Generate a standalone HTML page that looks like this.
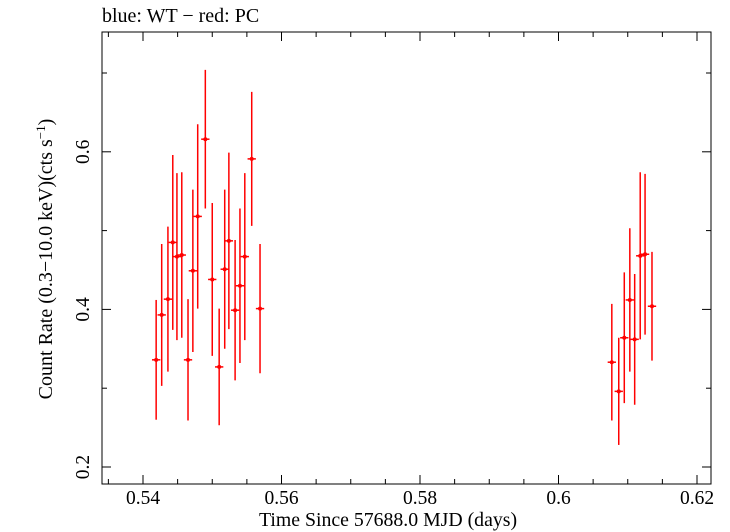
<!DOCTYPE html>
<html><head><meta charset="utf-8"><style>
body{margin:0;background:#fff;}
svg{display:block;font-family:"Liberation Serif",serif;}
</style></head><body>
<svg id="chart" width="730" height="532">
<text x="102" y="22" font-size="20">blue: WT − red: PC</text>
<rect x="102" y="32" width="609" height="452" fill="none" stroke="#000" stroke-width="1"/>
<g id="axes"></g>
<g id="marks"></g>
<text x="388" y="526" font-size="19.8" text-anchor="middle">Time Since 57688.0 MJD (days)</text>
<text transform="translate(52,259) rotate(-90)" font-size="20" text-anchor="middle">Count Rate (0.3−10.0 keV)(cts s<tspan dy="-7" font-size="13">−1</tspan><tspan dy="7">)</tspan></text>
</svg>
<script>
const times=[0.5419,0.5427,0.5436,0.5443,0.5449,0.5456,0.5465,0.5472,0.5479,0.5490,0.5500,0.5510,0.5518,0.5524,0.5533,0.5540,0.5547,0.5557,0.5569,0.6077,0.6087,0.6095,0.6103,0.6110,0.6118,0.6125,0.6135];
const rates=[0.336,0.393,0.413,0.485,0.467,0.469,0.336,0.449,0.518,0.616,0.438,0.327,0.451,0.487,0.399,0.430,0.467,0.591,0.401,0.333,0.296,0.364,0.412,0.362,0.468,0.470,0.404];
const rateErrs=[0.076,0.090,0.092,0.111,0.106,0.105,0.077,0.103,0.117,0.088,0.097,0.074,0.101,0.112,0.089,0.098,0.106,0.085,0.082,0.074,0.068,0.083,0.091,0.083,0.106,0.102,0.069];
const timeErr=0.0006;
const xTicks=[0.54,0.56,0.58,0.6,0.62];
const xTickLabels=["0.54","0.56","0.58","0.6","0.62"];
const yTicks=[0.2,0.4,0.6];
const yTickLabels=["0.2","0.4","0.6"];
const X0=102,X1=711,Y0=484,Y1=32;
const xs=v=>143+(v-0.54)*6925;
const ys=v=>467-(v-0.2)*788;
const NS="http://www.w3.org/2000/svg";
const axes=document.getElementById('axes'),marks=document.getElementById('marks');
function ln(p,x1,y1,x2,y2,c,w){const l=document.createElementNS(NS,'line');l.setAttribute('x1',x1);l.setAttribute('y1',y1);l.setAttribute('x2',x2);l.setAttribute('y2',y2);l.setAttribute('stroke',c);l.setAttribute('stroke-width',w);p.appendChild(l);return l;}
for(let v=0.535;v<=0.6251;v+=0.005){const x=xs(v);if(x<X0||x>X1)continue;const major=xTicks.some(t=>Math.abs(t-v)<1e-6);const L=major?9:5;
const a=ln(axes,x,Y0,x,Y0-L,'#000',1);
const b=ln(axes,x,Y1,x,Y1+L,'#000',1);}
xTicks.forEach((v,i)=>{const t=document.createElementNS(NS,'text');t.setAttribute('x',xs(v));t.setAttribute('y',504);t.setAttribute('font-size','19.5');t.setAttribute('text-anchor','middle');t.textContent=xTickLabels[i];


axes.appendChild(t);});
for(let v=0.2;v<=0.751;v+=0.1){const y=ys(v);if(y<Y1||y>Y0)continue;const major=yTicks.some(t=>Math.abs(t-v)<1e-6);const L=major?9:5;
const a=ln(axes,X0,y,X0+L,y,'#000',1);
const b=ln(axes,X1,y,X1-L,y,'#000',1);}
yTicks.forEach((v,i)=>{const t=document.createElementNS(NS,'text');t.setAttribute('transform',`translate(89,${ys(v)}) rotate(-90)`);t.setAttribute('font-size','19.5');t.setAttribute('text-anchor','middle');t.textContent=yTickLabels[i];


axes.appendChild(t);});
times.forEach((tv,i)=>{const g=document.createElementNS(NS,'g');


const x=xs(tv),y=ys(rates[i]);
ln(g,x,ys(rates[i]+rateErrs[i]),x,ys(rates[i]-rateErrs[i]),'#f00',1.5);
ln(g,xs(tv-timeErr),y,xs(tv+timeErr),y,'#f00',1.5);
const c=document.createElementNS(NS,'circle');c.setAttribute('cx',x);c.setAttribute('cy',y);c.setAttribute('r',2);c.setAttribute('fill','#f00');g.appendChild(c);
marks.appendChild(g);});
</script>
</body></html>
